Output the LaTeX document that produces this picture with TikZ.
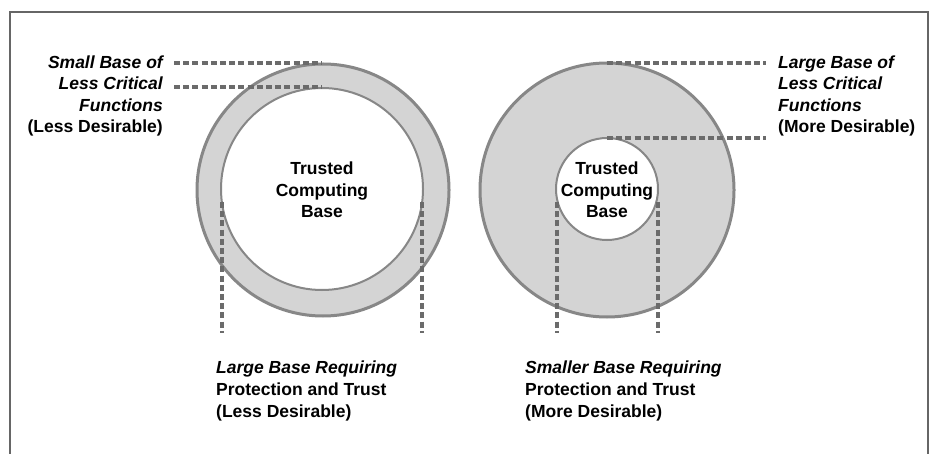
\documentclass[tikz,border=0pt]{standalone}
\usepackage{fontspec}
\setmainfont{Liberation Sans}
\begin{document}
\begin{tikzpicture}[x=1pt,y=-1pt,
  lbl/.style={inner sep=0pt,font=\fontsize{17.5}{21.6}\selectfont\bfseries},
  ring/.style={draw=black!47,line width=3pt,fill=black!17},
  core/.style={draw=black!47,line width=2pt,fill=white},
  leader/.style={draw=black!58,line width=3.4pt,dash pattern=on 6pt off 3.2pt},
  frameline/.style={draw=black!60,line width=1.5pt}]
\useasboundingbox (0,0) rectangle (936,454);
\fill[white] (0,0) rectangle (936,454);
\draw[frameline] (10,460) -- (10,12) -- (928,12) -- (928,460);
% left circles
\node[circle,ring,minimum size=252pt,inner sep=0pt] (LO) at (323,190) {};
\node[circle,core,minimum size=202pt,inner sep=0pt] (LI) at (322,189) {};
% right circles
\node[circle,ring,minimum size=254pt,inner sep=0pt] (RO) at (607,190) {};
\node[circle,core,minimum size=102pt,inner sep=0pt] (RI) at (607,189) {};
% center labels
\node[lbl,align=center] (LT) at (322,190) {Trusted\\Computing\\Base};
\node[lbl,align=center] (RT) at (607,190) {Trusted\\Computing\\Base};
% side labels
\node[lbl,align=right,anchor=east] (LA) at (163,96) {\itshape Small Base of\\\itshape Less Critical\\\itshape Functions\\(Less Desirable)};
\node[lbl,align=left,anchor=west] (RA) at (778,96) {\itshape Large Base of\\\itshape Less Critical\\\itshape Functions\\(More Desirable)};
\node[lbl,align=left,anchor=west] (LB) at (216,391) {\itshape Large Base Requiring\\Protection and Trust\\(Less Desirable)};
\node[lbl,align=left,anchor=west] (RB) at (525,391) {\itshape Smaller Base Requiring\\Protection and Trust\\(More Desirable)};
% leader coordinates
\coordinate (la1) at (174,63);  \coordinate (la1e) at (322,63);
\coordinate (la2) at (174,87);  \coordinate (la2e) at (322,87);
\coordinate (ra1) at (607,63);  \coordinate (ra1e) at (766,63);
\coordinate (ra2) at (607,138); \coordinate (ra2e) at (766,138);
\coordinate (lb1) at (222,202); \coordinate (lb1e) at (222,333);
\coordinate (lb2) at (422,202); \coordinate (lb2e) at (422,333);
\coordinate (rb1) at (557,202); \coordinate (rb1e) at (557,333);
\coordinate (rb2) at (658,202); \coordinate (rb2e) at (658,333);
\draw[leader] (la1) -- (la1e);
\draw[leader] (la2) -- (la2e);
\draw[leader] (ra1) -- (ra1e);
\draw[leader] (ra2) -- (ra2e);
\draw[leader] (lb1) -- (lb1e);
\draw[leader] (lb2) -- (lb2e);
\draw[leader] (rb1) -- (rb1e);
\draw[leader] (rb2) -- (rb2e);
\end{tikzpicture}
\end{document}
